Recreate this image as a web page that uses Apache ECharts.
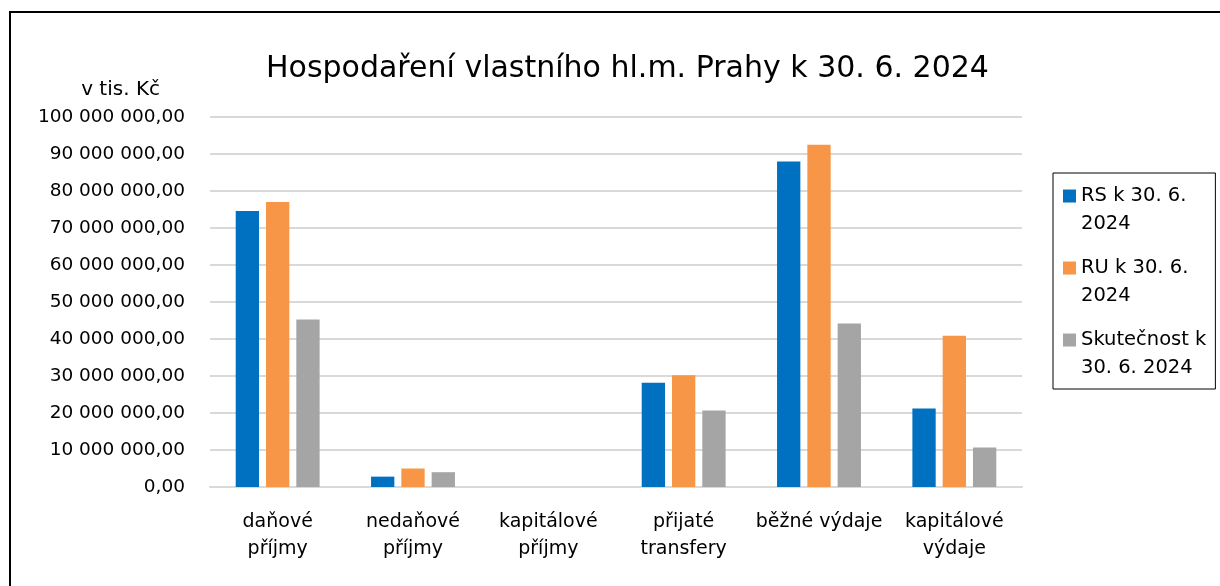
<!DOCTYPE html>
<html>
<head>
<meta charset="utf-8">
<script src="https://cdn.jsdelivr.net/npm/echarts@6/dist/echarts.min.js"></script>
<style>
html,body{margin:0;padding:0;background:#fff;}
#chart{width:1220px;height:586px;}
</style>
</head>
<body>
<div id="chart"></div>
<script>
const titleText = 'Hospodaření vlastního hl.m. Prahy k 30. 6. 2024';
const unitLabel = 'v tis. Kč';
const categories = ['daňové příjmy', 'nedaňové příjmy', 'kapitálové příjmy', 'přijaté transfery', 'běžné výdaje', 'kapitálové výdaje'];
const tickLabels = ['daňové\npříjmy', 'nedaňové\npříjmy', 'kapitálové\npříjmy', 'přijaté\ntransfery', 'běžné výdaje', 'kapitálové\nvýdaje'];
const seriesNames = ['RS k 30. 6. 2024', 'RU k 30. 6. 2024', 'Skutečnost k 30. 6. 2024'];
const legendLabels = ['RS k 30. 6.\n2024', 'RU k 30. 6.\n2024', 'Skutečnost k\n30. 6. 2024'];
const rsValues = [74600000, 2800000, 0, 28200000, 88000000, 21200000];
const ruValues = [77000000, 5000000, 0, 30200000, 92500000, 40900000];
const skValues = [45300000, 4000000, 0, 20700000, 44200000, 10700000];
const colors = ['#0070C0', '#F79646', '#A5A5A5'];

const FONT = 'DejaVu Sans';
function fmt(v) {
  const s = Math.round(v).toString().replace(/\B(?=(\d{3})+(?!\d))/g, ' ');
  return s + ',00';
}

const chart = echarts.init(document.getElementById('chart'), null, {renderer: 'canvas'});
const valuesList = [rsValues, ruValues, skValues];
chart.setOption({
  backgroundColor: '#fff',
  animation: false,
  textStyle: {fontFamily: FONT, color: '#000'},
  title: {
    text: titleText,
    left: 261,
    top: 49,
    textStyle: {fontFamily: FONT, fontSize: 30, fontWeight: 'normal', color: '#000'}
  },
  graphic: [{
    type: 'rect', z: -10, silent: true,
    shape: {x: 10, y: 12, width: 1400, height: 800},
    style: {fill: 'none', stroke: '#000', lineWidth: 2}
  }],
  legend: {
    orient: 'vertical',
    left: 1053,
    top: 173,
    padding: [9, 9, 7, 10],
    borderColor: '#000',
    borderWidth: 1,
    itemWidth: 13,
    itemHeight: 41,
    itemGap: 16,
    icon: 'path://M0,0L10,0L10,10L0,10ZM0,31.5',
    textStyle: {fontFamily: FONT, fontSize: 19.5, color: '#000', lineHeight: 28},
    formatter: function (name) { return legendLabels[seriesNames.indexOf(name)]; },
    data: seriesNames
  },
  grid: {left: 210, right: 198, top: 117, bottom: 99, containLabel: false},
  xAxis: {
    type: 'category',
    data: categories,
    axisLine: {lineStyle: {color: '#D9D9D9', width: 2}},
    axisTick: {show: false},
    axisLabel: {
      interval: 0, margin: 22, color: '#000', fontFamily: FONT, fontSize: 19,
      lineHeight: 27,
      formatter: function (v, i) { return tickLabels[i]; }
    }
  },
  yAxis: {
    type: 'value',
    min: 0, max: 100000000, interval: 10000000,
    name: unitLabel,
    nameLocation: 'end',
    nameGap: 27,
    nameTextStyle: {fontFamily: FONT, fontSize: 20, color: '#000', align: 'right', verticalAlign: 'middle', padding: [0, 50, 0, 0]},
    axisLine: {show: false},
    axisTick: {show: false},
    splitLine: {lineStyle: {color: '#D9D9D9', width: 2}},
    axisLabel: {margin: 25, color: '#000', fontFamily: FONT, fontSize: 18.5, formatter: fmt}
  },
  series: seriesNames.map((n, i) => ({
    name: n,
    type: 'bar',
    data: valuesList[i],
    barGap: '30%',
    barCategoryGap: '38%',
    itemStyle: {color: colors[i]}
  }))
});
</script>
</body>
</html>
